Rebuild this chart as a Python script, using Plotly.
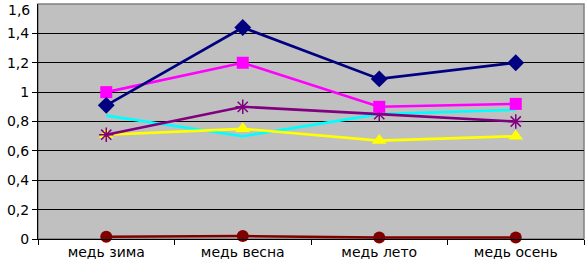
import plotly.graph_objects as go

categories = ["медь зима", "медь весна", "медь лето", "медь осень"]
s_navy = [0.91, 1.44, 1.09, 1.20]
s_magenta = [1.00, 1.20, 0.90, 0.92]
s_yellow = [0.71, 0.75, 0.67, 0.70]
s_cyan = [0.84, 0.70, 0.85, 0.88]
s_purple = [0.71, 0.90, 0.85, 0.80]
s_darkred = [0.015, 0.02, 0.01, 0.01]

y_ticks = [0, 0.2, 0.4, 0.6, 0.8, 1.0, 1.2, 1.4, 1.6]
y_labels = ["0", "0,2", "0,4", "0,6", "0,8", "1", "1,2", "1,4", "1,6"]

fig = go.Figure()

def add(vals, color, symbol, size, mline=0, mcolor=None, show_marker=True):
    fig.add_trace(go.Scatter(
        x=categories, y=vals, mode="lines+markers" if show_marker else "lines",
        line=dict(color=color, width=2.6),
        marker=dict(symbol=symbol, size=size, color=mcolor or color,
                    line=dict(width=mline, color=mcolor or color)),
        showlegend=False, cliponaxis=False, hoverinfo="skip"))

add(s_darkred, "#800000", "circle", 12)
add(s_cyan, "#00FFFF", "x", 1, show_marker=False)
add(s_yellow, "#FFFF00", "triangle-up", 13)
add(s_purple, "#800080", "asterisk-open", 12, mline=1.5, mcolor="#800080")
add(s_magenta, "#FF00FF", "square", 12)
add(s_navy, "#000080", "diamond", 13)

FS = 14
fig.update_layout(
    width=585, height=262,
    margin=dict(l=38, r=1, t=4, b=23),
    paper_bgcolor="white", plot_bgcolor="#C0C0C0",
    font=dict(family="DejaVu Sans, Arial", size=FS, color="black"),
    shapes=[dict(type="rect", xref="paper", yref="paper", x0=0, y0=0, x1=1, y1=1,
                 line=dict(color="#808080", width=1.5), layer="below")],
    annotations=[dict(x=0, y=1, xref="paper", yref="paper", text=y_labels[-1],
                      showarrow=False, xanchor="right", yanchor="top", xshift=-6,
                      yshift=4, font=dict(size=FS))],
)
fig.update_xaxes(
    showgrid=False, showline=True, linecolor="black", linewidth=1,
    ticks="outside", tickson="boundaries", ticklen=5, tickcolor="black",
    range=[-0.5, 3.5], tickfont=dict(size=FS), automargin=False)
fig.update_yaxes(
    range=[0, 1.6], tickvals=y_ticks[:-1], ticktext=y_labels[:-1],
    showgrid=True, gridcolor="black", gridwidth=1,
    showline=True, linecolor="black", linewidth=1,
    ticks="outside", ticklen=5, tickcolor="black", zeroline=False,
    tickfont=dict(size=FS), automargin=False)

fig.write_html("out.html", config={"displayModeBar": False},
               post_script="document.body.style.margin='0';document.body.style.padding='0';document.body.style.overflow='hidden';")
